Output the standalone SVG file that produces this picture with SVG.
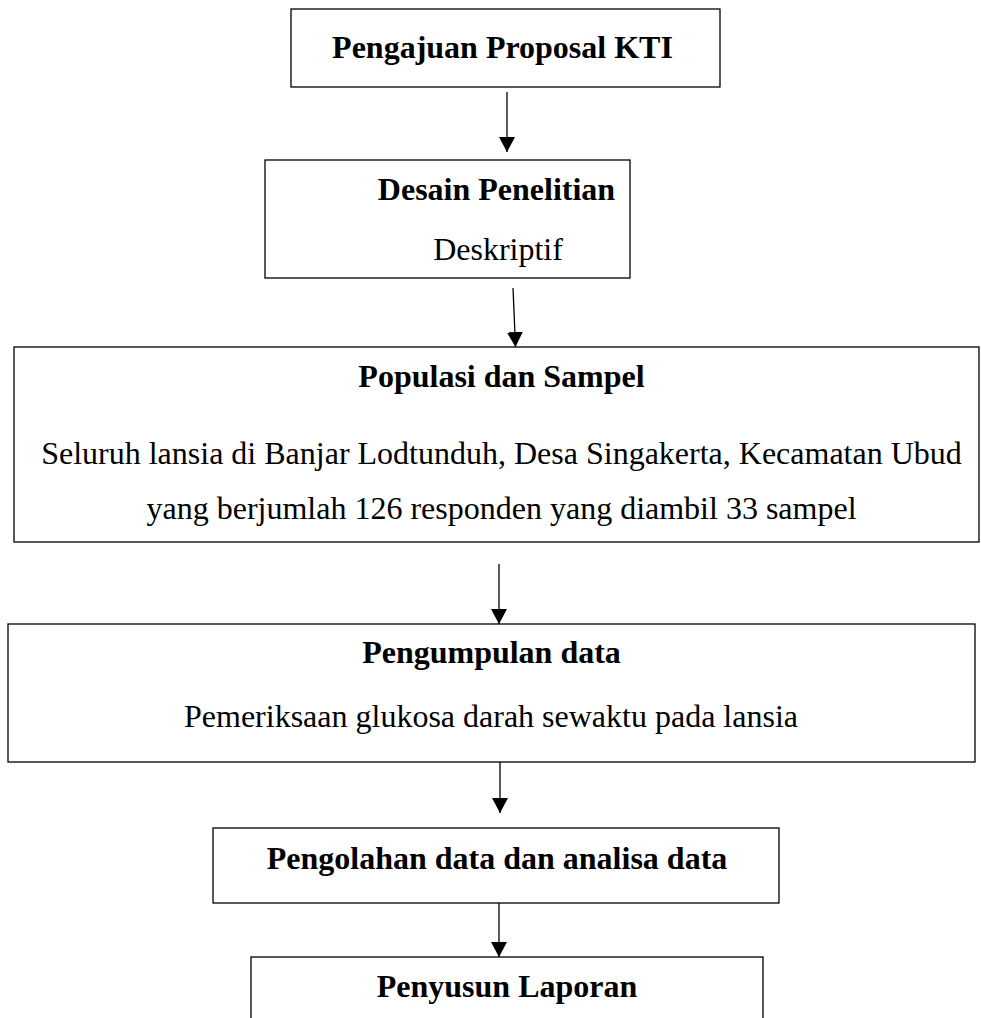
<svg xmlns="http://www.w3.org/2000/svg" width="981" height="1018" viewBox="0 0 981 1018">
<style>
.box{fill:#fff;stroke:#000;stroke-width:1.3}
.t{font-family:"Liberation Serif","Times New Roman",serif;font-size:32px;fill:#000;text-anchor:middle}
.b{font-weight:bold}
.c{stroke:#000;stroke-width:1.3;fill:none;marker-end:url(#ah)}
</style>
<defs>
<marker id="ah" markerUnits="userSpaceOnUse" markerWidth="16" markerHeight="18" refX="15" refY="8" orient="auto">
<path d="M0,0 L15,8 L0,16 z" fill="#000"/>
</marker>
</defs>
<rect width="981" height="1018" fill="#fff"/>
<g id="n1"><rect class="box" x="291" y="9" width="429" height="78"/><text class="t b" x="502.5" y="58">Pengajuan Proposal KTI</text></g>
<g id="n2"><rect class="box" x="265" y="160" width="365" height="118"/><text class="t b" x="496.5" y="200">Desain Penelitian</text><text class="t" x="498" y="260">Deskriptif</text></g>
<g id="n3"><rect class="box" x="14" y="347" width="965" height="195"/><text class="t b" x="501.5" y="387">Populasi dan Sampel</text><text class="t" x="501.5" y="464">Seluruh lansia di Banjar Lodtunduh, Desa Singakerta, Kecamatan Ubud</text><text class="t" x="501.5" y="519">yang berjumlah 126 responden yang diambil 33 sampel</text></g>
<g id="n4"><rect class="box" x="8" y="624" width="967" height="138"/><text class="t b" x="491.5" y="663">Pengumpulan data</text><text class="t" x="491" y="727">Pemeriksaan glukosa darah sewaktu pada lansia</text></g>
<g id="n5"><rect class="box" x="213" y="828" width="566" height="75"/><text class="t b" x="497" y="869">Pengolahan data dan analisa data</text></g>
<g id="n6"><rect class="box" x="251" y="957" width="512" height="100"/><text class="t b" x="507" y="997">Penyusun Laporan</text></g>
<g id="connectors">
<line class="c" x1="507" y1="92" x2="507" y2="152"/>
<line class="c" x1="513" y1="288" x2="515.5" y2="347"/>
<line class="c" x1="499" y1="564" x2="499" y2="624"/>
<line class="c" x1="500" y1="762" x2="500" y2="813"/>
<line class="c" x1="499" y1="903" x2="499" y2="957"/>
</g>
</svg>
